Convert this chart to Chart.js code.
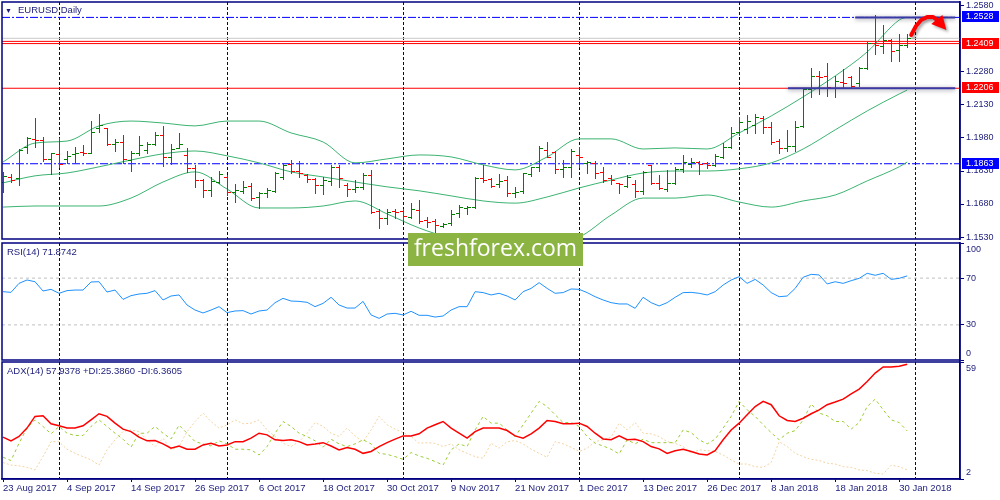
<!DOCTYPE html>
<html>
<head>
<meta charset="utf-8">
<title>EURUSD, Daily</title>
<script src="https://cdn.jsdelivr.net/npm/chart.js@4.4.1/dist/chart.umd.min.js"></script>
<style>
  html, body { margin: 0; padding: 0; background: #ffffff; }
  #wrap { position: relative; width: 1000px; height: 500px; overflow: hidden; font-family: "Liberation Sans", Arial, sans-serif; }
  #wrap canvas { position: absolute; left: 0; top: 0; }
  .cap { position: absolute; font-size: 9.5px; line-height: 12px; color: #1c1c7c; white-space: nowrap; }
  #logo { position: absolute; left: 408px; top: 233px; width: 175px; height: 33px; background: #8cb443; color: #ffffff;
          font-family: "Open Sans", sans-serif; font-size: 23px; line-height: 29px; text-align: center; }
</style>
</head>
<body>
<div id="wrap">
  <canvas id="priceChart" width="1000" height="500"></canvas>
  <canvas id="rsiChart" width="1000" height="500"></canvas>
  <canvas id="adxChart" width="1000" height="500"></canvas>
  <div class="cap" style="left:5px;top:5px;font-size:7px">&#9660;</div>
  <div class="cap" style="left:18px;top:4px">EURUSD,Daily</div>
  <div class="cap" style="left:7px;top:246px">RSI(14) 71.8742</div>
  <div class="cap" style="left:7px;top:365px">ADX(14) 57.9378 +DI:25.3860 -DI:6.3605</div>
  <div id="logo">freshforex.com</div>
</div>
<script>
// bar axis: one step per trading day, 23 Aug 2017 .. 31 Jan 2018
const dates = ['23 Aug 2017', '4 Sep 2017', '14 Sep 2017', '26 Sep 2017', '6 Oct 2017', '18 Oct 2017', '30 Oct 2017',
  '9 Nov 2017', '21 Nov 2017', '1 Dec 2017', '13 Dec 2017', '26 Dec 2017', '8 Jan 2018', '18 Jan 2018', '30 Jan 2018'];
const dateBars = [0, 8, 16, 24, 32, 40, 48, 56, 64, 72, 80, 88, 96, 104, 112];
const monthStarts = [7, 28, 50, 72, 92, 114];

const opens = [
  1.1780, 1.1803, 1.1799, 1.1940, 1.1976, 1.1971, 1.1885, 1.1908, 1.1885, 1.1908,
  1.1917, 1.1912, 1.2026, 1.2026, 1.1953, 1.1962, 1.1880, 1.1912, 1.1926, 1.1953,
  1.1994, 1.1894, 1.1935, 1.1903, 1.1844, 1.1789, 1.1744, 1.1780, 1.1803, 1.1735,
  1.1740, 1.1762, 1.1712, 1.1730, 1.1740, 1.1803, 1.1862, 1.1830, 1.1812, 1.1794,
  1.1766, 1.1785, 1.1849, 1.1766, 1.1748, 1.1758, 1.1812, 1.1648, 1.1616, 1.1648,
  1.1648, 1.1621, 1.1653, 1.1607, 1.1603, 1.1580, 1.1594, 1.1639, 1.1662, 1.1666,
  1.1799, 1.1794, 1.1771, 1.1789, 1.1730, 1.1740, 1.1817, 1.1849, 1.1926, 1.1917,
  1.1840, 1.1849, 1.1903, 1.1867, 1.1867, 1.1826, 1.1799, 1.1776, 1.1762, 1.1771,
  1.1740, 1.1858, 1.1776, 1.1748, 1.1776, 1.1840, 1.1862, 1.1871, 1.1867, 1.1858,
  1.1894, 1.1940, 1.2008, 1.2021, 1.2039, 1.2071, 1.2030, 1.1967, 1.1935, 1.1944,
  1.2035, 1.2203, 1.2262, 1.2262, 1.2207, 1.2235, 1.2257, 1.2230, 1.2298, 1.2412,
  1.2398, 1.2426, 1.2380, 1.2403];
const highs = [
  1.1826, 1.1817, 1.1930, 1.1985, 1.2071, 1.1985, 1.1912, 1.1980, 1.1921, 1.1940,
  1.1949, 1.2057, 1.2089, 1.2026, 1.1976, 1.1994, 1.1921, 1.1989, 1.1962, 1.2008,
  1.2035, 1.1953, 1.2003, 1.1935, 1.1858, 1.1794, 1.1803, 1.1830, 1.1812, 1.1771,
  1.1785, 1.1776, 1.1735, 1.1753, 1.1826, 1.1867, 1.1880, 1.1875, 1.1817, 1.1799,
  1.1803, 1.1858, 1.1858, 1.1776, 1.1789, 1.1821, 1.1835, 1.1657, 1.1657, 1.1657,
  1.1657, 1.1684, 1.1698, 1.1621, 1.1612, 1.1594, 1.1653, 1.1675, 1.1671, 1.1803,
  1.1858, 1.1799, 1.1817, 1.1808, 1.1758, 1.1821, 1.1849, 1.1944, 1.1962, 1.1921,
  1.1880, 1.1930, 1.1940, 1.1875, 1.1875, 1.1849, 1.1812, 1.1776, 1.1812, 1.1789,
  1.1830, 1.1858, 1.1812, 1.1835, 1.1849, 1.1903, 1.1889, 1.1875, 1.1871, 1.1908,
  1.1958, 1.2030, 1.2075, 1.2084, 1.2089, 1.2080, 1.2053, 1.1976, 1.2017, 1.2057,
  1.2207, 1.2298, 1.2285, 1.2321, 1.2262, 1.2294, 1.2262, 1.2303, 1.2417, 1.2537,
  1.2494, 1.2430, 1.2453, 1.2453];
const lows = [
  1.1735, 1.1780, 1.1766, 1.1912, 1.1940, 1.1875, 1.1817, 1.1849, 1.1867, 1.1867,
  1.1903, 1.1912, 1.2008, 1.1949, 1.1921, 1.1867, 1.1830, 1.1903, 1.1912, 1.1949,
  1.1853, 1.1862, 1.1935, 1.1826, 1.1758, 1.1712, 1.1717, 1.1776, 1.1721, 1.1689,
  1.1730, 1.1698, 1.1662, 1.1712, 1.1735, 1.1794, 1.1821, 1.1803, 1.1780, 1.1730,
  1.1726, 1.1766, 1.1758, 1.1717, 1.1735, 1.1748, 1.1639, 1.1571, 1.1589, 1.1616,
  1.1603, 1.1616, 1.1594, 1.1576, 1.1548, 1.1576, 1.1585, 1.1621, 1.1635, 1.1662,
  1.1780, 1.1758, 1.1758, 1.1717, 1.1712, 1.1730, 1.1808, 1.1830, 1.1894, 1.1821,
  1.1803, 1.1803, 1.1849, 1.1821, 1.1799, 1.1780, 1.1771, 1.1730, 1.1758, 1.1712,
  1.1726, 1.1771, 1.1748, 1.1740, 1.1771, 1.1826, 1.1849, 1.1817, 1.1844, 1.1853,
  1.1889, 1.1935, 1.1994, 1.2003, 1.2003, 1.2003, 1.1953, 1.1912, 1.1921, 1.1921,
  1.2030, 1.2167, 1.2180, 1.2171, 1.2167, 1.2212, 1.2212, 1.2216, 1.2294, 1.2362,
  1.2367, 1.2330, 1.2330, 1.2394];
const closes = [
  1.1808, 1.1789, 1.1926, 1.1980, 1.1971, 1.1885, 1.1912, 1.1862, 1.1899, 1.1912,
  1.1912, 1.2008, 1.2039, 1.1953, 1.1962, 1.1885, 1.1912, 1.1949, 1.1953, 1.1994,
  1.1894, 1.1930, 1.1953, 1.1844, 1.1789, 1.1744, 1.1785, 1.1817, 1.1735, 1.1744,
  1.1758, 1.1707, 1.1730, 1.1744, 1.1821, 1.1858, 1.1830, 1.1821, 1.1794, 1.1766,
  1.1789, 1.1849, 1.1799, 1.1748, 1.1758, 1.1812, 1.1644, 1.1616, 1.1644, 1.1644,
  1.1625, 1.1657, 1.1603, 1.1598, 1.1585, 1.1589, 1.1635, 1.1666, 1.1666, 1.1799,
  1.1789, 1.1762, 1.1785, 1.1730, 1.1735, 1.1821, 1.1849, 1.1935, 1.1894, 1.1840,
  1.1849, 1.1921, 1.1894, 1.1871, 1.1821, 1.1789, 1.1789, 1.1771, 1.1803, 1.1740,
  1.1826, 1.1776, 1.1753, 1.1776, 1.1840, 1.1871, 1.1871, 1.1862, 1.1858, 1.1899,
  1.1940, 1.2003, 1.2053, 1.2057, 1.2075, 1.2030, 1.1962, 1.1935, 1.1944, 1.2030,
  1.2203, 1.2262, 1.2257, 1.2212, 1.2239, 1.2230, 1.2216, 1.2298, 1.2412, 1.2403,
  1.2426, 1.2376, 1.2403, 1.2435];

// Bollinger bands, read every 4th bar
const bandBars = [0, 4, 8, 12, 16, 20, 24, 28, 32, 36, 40, 44, 48, 52, 56, 60, 64, 68, 72, 76, 80, 84, 88, 92, 96, 100, 104, 108, 112, 113];
const bbUpper = [1.1871, 1.1957, 1.1966, 1.2035, 1.2057, 1.2048, 1.2035, 1.2057, 1.2057, 1.2003, 1.1962, 1.1867, 1.1885, 1.1903, 1.1894,
  1.1858, 1.1835, 1.1894, 1.1976, 1.1976, 1.1930, 1.1935, 1.1930, 1.2003, 1.2080, 1.2167, 1.2262, 1.2371, 1.2516, 1.2530];
const bbMiddle = [1.1776, 1.1808, 1.1821, 1.1849, 1.1880, 1.1908, 1.1921, 1.1899, 1.1867, 1.1826, 1.1803, 1.1780, 1.1758, 1.1740, 1.1717,
  1.1694, 1.1684, 1.1712, 1.1753, 1.1789, 1.1821, 1.1830, 1.1830, 1.1840, 1.1867, 1.1930, 1.2017, 1.2103, 1.2180, 1.2198];
const bbLower = [1.1666, 1.1671, 1.1671, 1.1671, 1.1707, 1.1780, 1.1826, 1.1748, 1.1662, 1.1662, 1.1671, 1.1694, 1.1635, 1.1571, 1.1526,
  1.1507, 1.1503, 1.1507, 1.1530, 1.1630, 1.1707, 1.1707, 1.1721, 1.1689, 1.1666, 1.1694, 1.1721, 1.1785, 1.1849, 1.1871];

const rsi = [
  58.4, 57.8, 65.5, 68.4, 66.9, 59.0, 60.4, 57.0, 59.3, 59.8,
  59.8, 66.7, 66.9, 58.1, 59.8, 51.8, 55.0, 56.4, 57.0, 59.3,
  51.3, 54.7, 55.6, 47.0, 42.7, 40.2, 42.7, 45.6, 40.5, 41.9,
  42.2, 39.3, 41.9, 42.7, 49.0, 52.7, 50.4, 50.1, 49.3, 45.6,
  48.4, 53.6, 47.0, 44.4, 44.4, 50.1, 38.5, 35.6, 39.3, 39.9,
  38.5, 41.6, 38.2, 38.2, 36.7, 37.6, 42.7, 45.6, 45.6, 58.4,
  57.6, 55.6, 57.0, 54.7, 51.3, 58.4, 61.2, 66.1, 61.2, 57.0,
  57.6, 60.7, 60.4, 57.6, 54.1, 51.3, 49.0, 47.9, 47.9, 44.2,
  53.6, 49.0, 46.2, 49.0, 53.6, 57.6, 57.8, 57.0, 55.6, 58.4,
  64.1, 68.4, 71.2, 65.5, 68.9, 64.1, 57.6, 54.1, 54.7, 61.2,
  70.7, 73.2, 72.7, 65.0, 66.9, 65.5, 67.8, 69.8, 74.1, 72.4,
  74.1, 68.9, 69.8, 71.9];
const rsiLevels = [70, 30];
const rsiTicks = [0, 30, 70, 100];

const adx = [
  22.4, 20.6, 22.7, 26.8, 32.5, 32.8, 28.9, 27.9, 26.8, 26.8,
  27.9, 30.8, 33.8, 32.5, 29.2, 26.3, 25.1, 22.4, 20.6, 20.7,
  19.1, 17.0, 18.1, 16.5, 16.5, 18.6, 19.4, 18.1, 18.6, 20.2,
  20.2, 21.9, 24.3, 23.5, 21.1, 20.7, 21.1, 20.2, 18.6, 19.1,
  19.7, 18.1, 16.2, 17.3, 16.5, 14.5, 15.4, 17.8, 19.7, 21.4,
  23.0, 23.0, 24.0, 26.8, 28.4, 30.0, 26.8, 24.3, 21.9, 25.1,
  26.8, 26.8, 26.8, 25.6, 23.0, 21.9, 24.0, 26.8, 30.5, 30.0,
  28.9, 28.9, 29.2, 27.6, 24.3, 21.5, 21.1, 23.0, 21.1, 21.4,
  20.2, 17.8, 16.7, 14.5, 15.8, 16.5, 15.4, 14.2, 13.7, 15.8,
  21.1, 25.9, 29.2, 33.3, 37.3, 39.8, 38.2, 32.8, 30.5, 30.0,
  31.6, 33.8, 35.7, 38.2, 39.5, 40.9, 43.5, 45.8, 49.5, 53.6,
  56.6, 56.6, 56.9, 57.9];
const plusDi = [
  12.6, 11.0, 19.4, 26.8, 30.8, 27.6, 24.0, 27.6, 24.3, 23.2,
  23.2, 27.6, 30.8, 27.6, 24.3, 21.4, 17.5, 24.3, 24.3, 27.6,
  24.3, 21.5, 28.2, 24.3, 20.2, 19.1, 18.1, 20.6, 19.1, 16.5,
  16.5, 16.2, 13.7, 17.8, 24.3, 30.0, 27.6, 24.3, 22.7, 20.6,
  17.5, 21.4, 19.1, 17.8, 19.1, 21.1, 19.1, 14.5, 14.0, 12.9,
  11.6, 14.9, 13.2, 12.1, 10.5, 8.8, 16.2, 19.1, 17.8, 25.9,
  32.5, 29.2, 29.2, 25.9, 22.7, 28.4, 34.1, 39.8, 37.3, 33.3,
  29.5, 29.5, 27.6, 22.7, 19.4, 18.1, 16.5, 14.2, 21.1, 19.1,
  21.4, 19.7, 19.7, 19.7, 19.7, 25.9, 24.6, 21.1, 19.1, 21.4,
  26.8, 32.5, 39.8, 35.7, 32.5, 28.4, 24.6, 21.1, 24.3, 25.6,
  30.8, 38.6, 34.1, 32.8, 30.0, 30.0, 26.3, 29.5, 37.3, 40.9,
  35.7, 30.8, 29.5, 25.4];
const minusDi = [
  10.0, 8.8, 8.4, 7.7, 6.4, 12.9, 20.2, 20.2, 16.5, 14.5,
  12.9, 11.3, 8.8, 16.2, 21.1, 25.1, 25.9, 25.1, 21.1, 17.8,
  21.9, 16.2, 17.8, 25.1, 30.0, 34.1, 30.0, 26.8, 28.4, 30.8,
  28.9, 29.2, 30.8, 25.9, 22.7, 19.4, 17.8, 20.2, 24.3, 29.5,
  27.6, 24.3, 22.7, 26.8, 23.0, 20.2, 25.9, 32.5, 28.4, 26.3,
  24.6, 22.7, 19.4, 19.7, 19.4, 17.8, 19.1, 16.2, 14.5, 12.9,
  12.1, 19.4, 17.0, 20.2, 20.7, 19.1, 16.5, 14.5, 12.6, 20.2,
  19.1, 17.5, 15.4, 17.0, 20.2, 21.1, 22.4, 29.2, 25.9, 29.5,
  24.3, 24.0, 22.7, 20.2, 19.4, 17.8, 14.5, 16.2, 15.8, 15.4,
  13.7, 11.3, 9.3, 9.3, 8.0, 7.7, 10.0, 20.2, 17.8, 14.5,
  12.9, 11.6, 11.0, 9.7, 9.3, 8.0, 7.7, 6.4, 6.1, 4.8,
  4.4, 8.7, 8.0, 6.4];
const adxTicks = [2, 59];

// price scale, horizontal levels and price tags on the axis
const priceTicks = [1.1530, 1.1680, 1.1830, 1.1980, 1.2130, 1.2280, 1.2580];
const resistance = 1.2528, support = 1.1863;
const redLevels = [1.2419, 1.2409, 1.2206];
const bidLine = 1.2433;
const tagPrices = [1.2528, 1.2409, 1.2206, 1.1863];
// hand-drawn lines (from bar, to bar, price) and the red arrow
const trendFrom = [106.5, 98.1], trendTo = [119, 119], trendPrice = [1.2528, 1.2206];
const arrowBars = [113.5, 114.1, 114.75, 115.5, 116.25, 116.75];
const arrowPrices = [1.2448, 1.2489, 1.2516, 1.2530, 1.2530, 1.2516];
const headBars = [116.0, 117.4, 117.9], headPrices = [1.2498, 1.2539, 1.2471];

const NAVY = '#000080';
const TXT = '#1c1c7c';
const FONT = 'Liberation Sans';
const xMin = -0.125, xMax = 119.6;

const series = arr => arr.map((v, i) => ({ x: i, y: v }));
const sampled = (xs, ys) => xs.map((v, k) => ({ x: v, y: ys[k] }));
const flat = v => [{ x: xMin, y: v }, { x: xMax, y: v }];

function line(data, color, width, dash, order, smooth) {
  return {
    type: 'line', data: data, borderColor: color, borderWidth: width, borderDash: dash || [],
    pointRadius: 0, fill: false, order: order, tension: 0,
    cubicInterpolationMode: smooth ? 'monotone' : 'default'
  };
}

// edge labels sit inside the panel, as in the terminal
function edgeLabel(top, bottom) {
  return v => v === top ? ['', String(v)] : v === bottom ? [String(v), ''] : String(v);
}

// month separators and the panel frame
const panelPlugin = {
  id: 'panel',
  beforeDatasetsDraw(chart) {
    const { ctx, chartArea: a, scales: { x } } = chart;
    ctx.save();
    ctx.beginPath();
    ctx.rect(a.left, a.top, a.width, a.height);
    ctx.clip();
    ctx.strokeStyle = NAVY;
    ctx.lineWidth = 1;
    ctx.setLineDash([3, 2]);
    monthStarts.forEach(i => {
      const px = Math.round(x.getPixelForValue(i)) + 0.5;
      ctx.beginPath();
      ctx.moveTo(px, a.top);
      ctx.lineTo(px, a.bottom);
      ctx.stroke();
    });
    ctx.restore();
  },
  afterDraw(chart) {
    const { ctx, chartArea: a } = chart;
    ctx.save();
    ctx.strokeStyle = NAVY;
    ctx.lineWidth = 1.5;
    ctx.strokeRect(a.left, a.top, a.width, a.height);
    ctx.restore();
  }
};

// OHLC bars, drawn lines, arrow and the price tags
const pricePlugin = {
  id: 'ohlc',
  afterDatasetsDraw(chart) {
    const { ctx, chartArea: a, scales: { x, y } } = chart;
    ctx.save();
    ctx.beginPath();
    ctx.rect(a.left, a.top, a.width, a.height);
    ctx.clip();
    for (let i = 0; i < closes.length; i++) {
      const px = Math.round(x.getPixelForValue(i));
      ctx.fillStyle = closes[i] >= opens[i] ? '#008000' : '#ff0000';
      const yh = Math.round(y.getPixelForValue(highs[i]));
      const yl = Math.round(y.getPixelForValue(lows[i]));
      const yo = Math.round(y.getPixelForValue(opens[i]));
      const yc = Math.round(y.getPixelForValue(closes[i]));
      ctx.fillRect(px, yh, 1, yl - yh + 1);
      ctx.fillRect(px - 3, yo, 3, 1);
      ctx.fillRect(px + 1, yc, 3, 1);
    }

    // hand-drawn horizontal lines with a soft shadow
    ctx.shadowColor = 'rgba(60, 60, 80, 0.55)';
    ctx.shadowBlur = 4;
    ctx.shadowOffsetY = 1;
    ctx.strokeStyle = '#3a3aa6';
    ctx.lineWidth = 2;
    trendPrice.forEach((p, k) => {
      const py = y.getPixelForValue(p);
      ctx.beginPath();
      ctx.moveTo(x.getPixelForValue(trendFrom[k]), py);
      ctx.lineTo(x.getPixelForValue(trendTo[k]), py);
      ctx.stroke();
    });

    // red arrow
    ctx.shadowColor = 'rgba(0, 0, 0, 0.35)';
    ctx.shadowBlur = 3;
    ctx.shadowOffsetX = 2;
    ctx.shadowOffsetY = 2;
    ctx.strokeStyle = '#ff0000';
    ctx.fillStyle = '#ff0000';
    ctx.lineWidth = 4;
    ctx.lineCap = 'round';
    ctx.lineJoin = 'round';
    ctx.beginPath();
    arrowBars.forEach((b, k) => {
      const px = x.getPixelForValue(b), py = y.getPixelForValue(arrowPrices[k]);
      if (k === 0) ctx.moveTo(px, py); else ctx.lineTo(px, py);
    });
    ctx.stroke();
    ctx.beginPath();
    headBars.forEach((b, k) => {
      const px = x.getPixelForValue(b), py = y.getPixelForValue(headPrices[k]);
      if (k === 0) ctx.moveTo(px, py); else ctx.lineTo(px, py);
    });
    ctx.closePath();
    ctx.fill();
    ctx.restore();
  },
  afterDraw(chart) {
    const { ctx, chartArea: a, scales: { y } } = chart;
    ctx.save();
    ctx.font = '9px "' + FONT + '"';
    ctx.textBaseline = 'middle';
    tagPrices.forEach(p => {
      const py = Math.round(y.getPixelForValue(p));
      const isLevel = p === resistance || p === support;
      ctx.fillStyle = isLevel ? '#0000ff' : '#ff0000';
      ctx.fillRect(a.right + 2, py - 6, 37, 11);
      ctx.fillStyle = '#ffffff';
      ctx.fillText(p.toFixed(4), a.right + 6, py);
    });
    ctx.restore();
  }
};

function yAxis(min, max, ticks, fmt) {
  return {
    position: 'right', min: min, max: max,
    afterFit(s) { s.width = 40; s.paddingTop = 0; s.paddingBottom = 0; },
    afterBuildTicks(s) { s.ticks = ticks.map(v => ({ value: v })); },
    ticks: { color: TXT, font: { family: FONT, size: 9, lineHeight: 1.35 }, padding: 2, autoSkip: false, callback: fmt },
    grid: { drawOnChartArea: false, drawTicks: true, tickLength: 4, color: NAVY },
    border: { display: true, color: NAVY, width: 1.5 }
  };
}

const hiddenX = { type: 'linear', min: xMin, max: xMax, display: false };

const common = {
  responsive: false,
  animation: false,
  events: [],
  plugins: { legend: { display: false }, tooltip: { enabled: false } }
};

new Chart(document.getElementById('priceChart'), {
  type: 'line',
  data: {
    datasets: [
      line(flat(bidLine), '#c8c8c8', 1, null, 9),
      line(flat(resistance), '#0000ff', 1, [8, 2, 2, 2], 8),
      line(flat(support), '#0000ff', 1, [8, 2, 2, 2], 8),
      ...redLevels.map(p => line(flat(p), '#ff0000', 1, null, 7)),
      line(sampled(bandBars, bbUpper), '#3cb371', 1, null, 5, true),
      line(sampled(bandBars, bbMiddle), '#3cb371', 1, null, 5, true),
      line(sampled(bandBars, bbLower), '#3cb371', 1, null, 5, true)
    ]
  },
  options: {
    ...common,
    layout: { padding: { left: 2, top: 2, right: 0, bottom: 261 } },
    scales: {
      x: hiddenX,
      y: yAxis(1.1521, 1.2598, priceTicks, v => v.toFixed(4))
    }
  },
  plugins: [panelPlugin, pricePlugin]
});

new Chart(document.getElementById('rsiChart'), {
  type: 'line',
  data: {
    datasets: [
      ...rsiLevels.map(v => line(flat(v), '#c0c0c0', 1, [3, 3], 5)),
      line(series(rsi), '#1e90ff', 1, null, 1)
    ]
  },
  options: {
    ...common,
    layout: { padding: { left: 2, top: 243, right: 0, bottom: 140 } },
    scales: {
      x: hiddenX,
      y: yAxis(0, 100, rsiTicks, edgeLabel(100, 0))
    }
  },
  plugins: [panelPlugin]
});

new Chart(document.getElementById('adxChart'), {
  type: 'line',
  data: {
    datasets: [
      line(series(minusDi), '#f3d3a2', 1, [2, 2], 3),
      line(series(plusDi), '#9acd32', 1, [3, 3], 2),
      line(series(adx), '#ff0000', 1.5, null, 1)
    ]
  },
  options: {
    ...common,
    layout: { padding: { left: 2, top: 362, right: 0, bottom: 0 } },
    scales: {
      x: {
        type: 'linear', min: xMin, max: xMax, position: 'bottom',
        afterFit(s) { s.height = 21; s.paddingLeft = 0; s.paddingRight = 0; },
        afterBuildTicks(s) { s.ticks = dateBars.map(v => ({ value: v })); },
        ticks: {
          color: TXT, font: { family: FONT, size: 9.5 }, padding: 1, align: 'start',
          autoSkip: false, maxRotation: 0, minRotation: 0,
          callback: v => dates[dateBars.indexOf(v)]
        },
        grid: { drawOnChartArea: false, drawTicks: true, tickLength: 3, color: NAVY },
        border: { display: true, color: NAVY, width: 1.5 }
      },
      y: yAxis(2, 59, adxTicks, edgeLabel(59, 2))
    }
  },
  plugins: [panelPlugin]
});
</script>
</body>
</html>
